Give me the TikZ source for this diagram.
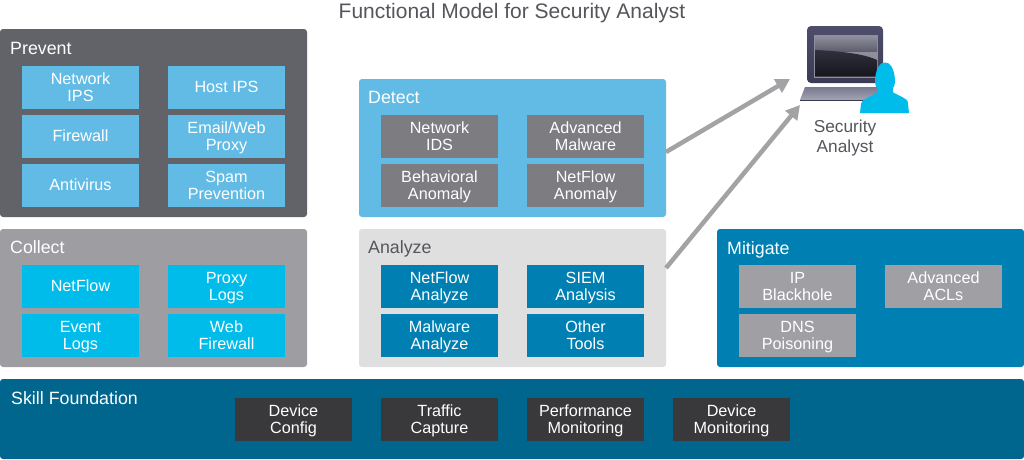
\documentclass[tikz,border=0pt]{standalone}
\usepackage{fontspec}
\setmainfont{Liberation Sans}
\usetikzlibrary{arrows.meta}
\definecolor{cblue}{HTML}{62BBE5}
\definecolor{cprevent}{HTML}{626369}
\definecolor{ccollect}{HTML}{9E9DA2}
\definecolor{ccyan}{HTML}{00BCEB}
\definecolor{canalyze}{HTML}{DFDFDF}
\definecolor{cteal}{HTML}{0080B2}
\definecolor{cgreybox}{HTML}{7C7C81}
\definecolor{cgreyb}{HTML}{A0A0A4}
\definecolor{cskill}{HTML}{00668E}
\definecolor{cdark}{HTML}{39393B}
\definecolor{ctext}{HTML}{55555B}
\definecolor{carrow}{HTML}{A3A3A5}
\definecolor{lapedge}{HTML}{4E4E6C}
\definecolor{lapedgeb}{HTML}{3A3A55}
\definecolor{scrtop}{HTML}{8E8E9C}
\definecolor{scrmid}{HTML}{5F5F6E}
\definecolor{scrlowt}{HTML}{30303F}
\definecolor{scrlowb}{HTML}{15151C}
\definecolor{baset}{HTML}{777790}
\definecolor{baseb}{HTML}{A5A5B2}
\tikzset{
  x=1pt,y=-1pt,
  panel/.style={anchor=north west,inner sep=0pt,outer sep=0pt,rounded corners=3pt,minimum width=307pt},
  ptitle/.style={anchor=base west,inner sep=0pt,font=\fontsize{17.8}{19}\selectfont},
  item/.style={anchor=north west,inner sep=0pt,outer sep=0pt,minimum width=117pt,minimum height=43pt,align=center,text=white,font=\fontsize{16.2}{17}\selectfont,text height=29.8pt,text depth=2pt},
  oneline/.style={text height=12.2pt,text depth=2pt},
  flow/.style={draw=carrow,line width=4.5pt,-{Triangle[length=14pt,width=15pt]}},
}
\begin{document}
\begin{tikzpicture}
\useasboundingbox (0,0) rectangle (1024,459);
\node[anchor=base,inner sep=0pt,text=ctext,font=\fontsize{21}{23}\selectfont] (title) at (512,18) {Functional Model for Security Analyst};
% panels
\node[panel,fill=cprevent,minimum height=188pt] (prevent) at (0,29) {};
\node[panel,fill=ccollect,minimum height=138pt] (collect) at (0,229) {};
\node[panel,fill=cblue,minimum height=138pt] (detect) at (359,79) {};
\node[panel,fill=canalyze,minimum height=138pt] (analyze) at (359,229) {};
\node[panel,fill=cteal,minimum height=138pt] (mitigate) at (717,229) {};
\node[panel,fill=cskill,minimum width=1024pt,minimum height=80pt] (skill) at (0,379) {};
\node[ptitle,text=white] (tprevent) at (10,54.7) {Prevent};
\node[ptitle,text=white] (tcollect) at (10,253.7) {Collect};
\node[ptitle,text=white] (tdetect) at (368,103.7) {Detect};
\node[ptitle,text=ctext] (tanalyze) at (368,253.7) {Analyze};
\node[ptitle,text=white] (tmitigate) at (727,254) {Mitigate};
\node[ptitle,text=white] (tskill) at (11,404.7) {Skill Foundation};
% prevent
\node[item,fill=cblue] (p1) at (22,66) {Network\\IPS};
\node[item,oneline,fill=cblue] (p2) at (168,66) {Host IPS};
\node[item,oneline,fill=cblue] (p3) at (22,115) {Firewall};
\node[item,fill=cblue] (p4) at (168,115) {Email/Web\\Proxy};
\node[item,oneline,fill=cblue] (p5) at (22,164) {Antivirus};
\node[item,fill=cblue] (p6) at (168,164) {Spam\\Prevention};
% collect
\node[item,oneline,fill=ccyan] (c1) at (22,265) {NetFlow};
\node[item,fill=ccyan] (c2) at (168,265) {Proxy\\Logs};
\node[item,fill=ccyan] (c3) at (22,314) {Event\\Logs};
\node[item,fill=ccyan] (c4) at (168,314) {Web\\Firewall};
% detect
\node[item,fill=cgreybox] (d1) at (381,115) {Network\\IDS};
\node[item,fill=cgreybox] (d2) at (527,115) {Advanced\\Malware};
\node[item,fill=cgreybox] (d3) at (381,164) {Behavioral\\Anomaly};
\node[item,fill=cgreybox] (d4) at (527,164) {NetFlow\\Anomaly};
% analyze
\node[item,fill=cteal] (a1) at (381,265) {NetFlow\\Analyze};
\node[item,fill=cteal] (a2) at (527,265) {SIEM\\Analysis};
\node[item,fill=cteal] (a3) at (381,314) {Malware\\Analyze};
\node[item,fill=cteal] (a4) at (527,314) {Other\\Tools};
% mitigate
\node[item,fill=cgreyb] (m1) at (739,265) {IP\\Blackhole};
\node[item,fill=cgreyb] (m2) at (885,265) {Advanced\\ACLs};
\node[item,fill=cgreyb] (m3) at (739,314) {DNS\\Poisoning};
% skill
\node[item,fill=cdark] (s1) at (235,398) {Device\\Config};
\node[item,fill=cdark] (s2) at (381,398) {Traffic\\Capture};
\node[item,fill=cdark] (s3) at (527,398) {Performance\\Monitoring};
\node[item,fill=cdark] (s4) at (673,398) {Device\\Monitoring};
% laptop
\shade[top color=lapedge,bottom color=lapedgeb,rounded corners=4pt] (807,26) rectangle (883,83);
\fill[scrtop] (814,35) rectangle (878,77.5);
\shade[top color=scrtop,bottom color=scrmid] (815,36) rectangle (877,51);
\shade[top color=scrlowt,bottom color=scrlowb] (815,50) .. controls (840,51) and (865,54) .. (877,60) -- (877,76.5) -- (815,76.5) -- cycle;
\shade[top color=baset,bottom color=baseb] (805,87) -- (880,87) -- (882,100) -- (800,100) -- cycle;
\draw[lapedgeb,line width=1pt] (800,100.5) -- (882,100.5);
\fill[ccyan] (860,113) -- (861,104) .. controls (862,100) and (865,99) .. (868,97.5) -- (877,92.5) -- (877,88) .. controls (873,85) and (875,62) .. (885,62.5) .. controls (895,62) and (897,85) .. (893,88) -- (893,92.5) -- (903,97.5) .. controls (906,99) and (908,100) .. (908,104) -- (909,113) -- cycle;
\node[inner sep=0pt,align=center,text=ctext,font=\fontsize{17.3}{20}\selectfont] (analyst) at (845,138) {Security\\Analyst};
% connectors
\coordinate (detectout) at (666,152);
\coordinate (detectin) at (790,79);
\coordinate (analyzeout) at (666,268);
\coordinate (analyzein) at (800,105);
\draw[flow] (detectout) -- (detectin);
\draw[flow] (analyzeout) -- (analyzein);
\end{tikzpicture}
\end{document}
